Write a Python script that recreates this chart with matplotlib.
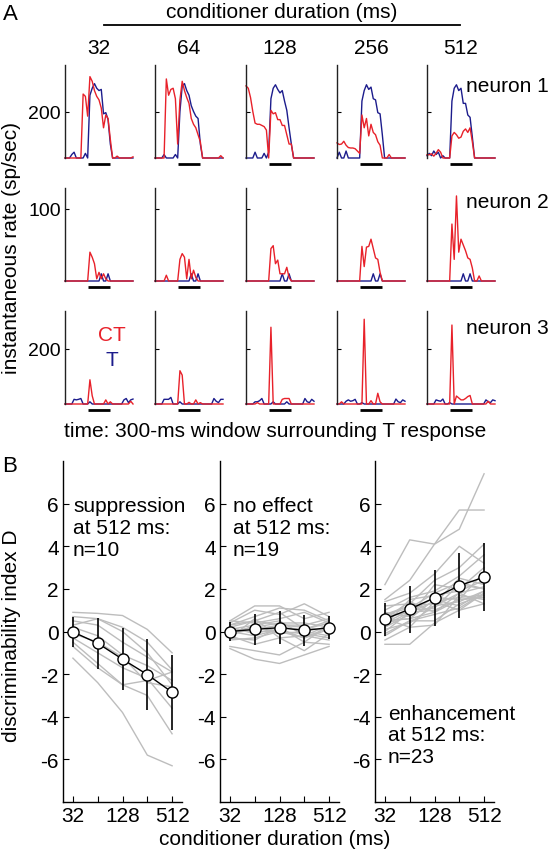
import numpy as np
import matplotlib
matplotlib.use('Agg')
import matplotlib.pyplot as plt
from matplotlib.lines import Line2D

plt.rcParams['font.family'] = ['Liberation Sans', 'DejaVu Sans']
plt.rcParams['font.size'] = 15
plt.rcParams['axes.unicode_minus'] = False

W, H = 550, 853
RED = '#e8212a'
BLUE = '#1c1c8c'
GRAY = '#bdbdbd'

# ==============================
# Panel A data: instantaneous rate, 10-ms bins over a 300-ms window
# ==============================
durations = ['32', '64', '128', '256', '512']
time_ms = np.arange(0, 301, 10)
t_window = (100, 200)

n1_ct = [
    [0, 0, 0, 0, 0, 0, 0, 0, 275, 265, 180, 350, 330, 290, 265, 250, 215, 130, 185, 170, 80, 0, 0, 8, 0, 0, 0, 0, 0, 0, 5],
    [0, 0, 0, 0, 0, 340, 270, 295, 300, 255, 60, 250, 330, 290, 260, 235, 170, 145, 130, 100, 70, 0, 0, 0, 0, 0, 0, 0, 0, 10, 0],
    [310, 300, 260, 200, 150, 145, 145, 140, 135, 120, 0, 205, 190, 195, 165, 165, 140, 140, 100, 60, 60, 0, 0, 0, 0, 0, 0, 0, 0, 0, 0],
    [65, 58, 60, 72, 55, 45, 43, 43, 40, 30, 20, 185, 130, 170, 95, 145, 110, 100, 70, 55, 0, 0, 0, 15, 0, 0, 0, 0, 0, 0, 0],
    [14, 14, 18, 8, 20, 36, 25, 0, 0, 0, 0, 95, 110, 100, 85, 90, 115, 125, 110, 130, 70, 0, 0, 0, 0, 0, 0, 0, 0, 0, 0],
]
n1_t = [
    [0, 0, 0, 15, 25, 0, 0, 0, 0, 20, 0, 270, 300, 320, 300, 290, 295, 190, 195, 165, 60, 0, 0, 0, 0, 0, 0, 0, 0, 0, 0],
    [0, 0, 0, 0, 15, 0, 0, 0, 0, 15, 0, 200, 310, 320, 290, 270, 225, 200, 180, 170, 60, 0, 0, 0, 0, 0, 0, 0, 0, 0, 0],
    [0, 0, 0, 0, 25, 0, 0, 0, 20, 0, 25, 255, 300, 315, 295, 280, 290, 245, 205, 130, 60, 0, 0, 0, 0, 0, 0, 0, 0, 0, 0],
    [0, 25, 0, 0, 30, 0, 0, 0, 0, 0, 0, 245, 290, 315, 295, 305, 255, 250, 195, 190, 100, 0, 0, 0, 0, 0, 0, 0, 0, 0, 0],
    [10, 20, 10, 30, 15, 25, 0, 10, 0, 0, 0, 245, 300, 315, 290, 300, 235, 235, 185, 175, 90, 0, 0, 0, 0, 0, 0, 0, 0, 0, 0],
]
n2_ct = [
    [0, 0, 0, 0, 0, 0, 0, 0, 0, 0, 0, 40, 33, 24, 3, 12, 3, 10, 3, 0, 0, 0, 0, 0, 0, 0, 0, 0, 0, 0, 0],
    [0, 0, 0, 0, 0, 8, 0, 0, 0, 0, 0, 30, 38, 33, 3, 30, 3, 15, 5, 0, 0, 0, 0, 0, 0, 0, 0, 0, 0, 0, 0],
    [0, 0, 0, 0, 0, 0, 0, 0, 0, 0, 0, 45, 49, 24, 29, 10, 10, 10, 19, 5, 0, 0, 0, 0, 0, 0, 0, 0, 0, 0, 0],
    [0, 0, 0, 0, 0, 0, 0, 0, 0, 0, 0, 48, 20, 47, 48, 58, 45, 32, 30, 12, 0, 0, 0, 0, 0, 0, 0, 0, 0, 0, 0],
    [0, 0, 0, 0, 0, 0, 0, 0, 0, 0, 0, 79, 30, 118, 40, 58, 50, 42, 32, 30, 18, 0, 0, 7, 0, 0, 0, 0, 0, 0, 0],
]
n2_t = [
    [0, 0, 0, 0, 0, 0, 0, 0, 0, 0, 0, 0, 0, 0, 0, 0, 10, 0, 0, 10, 0, 0, 0, 0, 0, 0, 0, 0, 0, 0, 0],
    [0, 0, 0, 0, 0, 0, 0, 0, 0, 0, 0, 0, 0, 0, 0, 0, 10, 0, 0, 10, 0, 0, 0, 0, 0, 0, 0, 0, 0, 0, 0],
    [0, 0, 0, 0, 0, 0, 0, 0, 0, 0, 0, 0, 0, 0, 0, 0, 10, 0, 0, 10, 0, 0, 0, 0, 0, 0, 0, 0, 0, 0, 0],
    [0, 0, 0, 0, 0, 0, 0, 0, 0, 0, 0, 0, 0, 0, 0, 0, 10, 0, 0, 10, 0, 0, 0, 0, 0, 0, 0, 0, 0, 0, 0],
    [0, 0, 0, 0, 0, 0, 0, 0, 0, 0, 0, 0, 0, 0, 0, 0, 10, 0, 0, 10, 0, 0, 0, 0, 0, 0, 0, 0, 0, 0, 0],
]
n3_ct = [
    [0, 0, 0, 0, 0, 0, 0, 0, 0, 0, 0, 88, 30, 0, 0, 0, 0, 0, 15, 0, 8, 0, 0, 0, 0, 0, 0, 0, 0, 10, 0],
    [0, 0, 0, 0, 0, 0, 0, 0, 0, 0, 0, 121, 105, 0, 0, 6, 0, 0, 15, 0, 5, 0, 0, 0, 0, 0, 0, 0, 0, 0, 0],
    [0, 0, 0, 0, 0, 5, 0, 0, 0, 0, 0, 279, 0, 0, 0, 0, 17, 20, 20, 20, 0, 0, 0, 0, 0, 0, 0, 0, 0, 0, 0],
    [0, 0, 8, 0, 0, 0, 0, 0, 0, 0, 0, 0, 308, 0, 0, 12, 0, 0, 39, 8, 0, 0, 0, 0, 0, 0, 0, 0, 0, 0, 0],
    [0, 0, 0, 0, 0, 0, 0, 0, 0, 0, 0, 287, 0, 29, 22, 15, 15, 20, 27, 31, 0, 0, 0, 0, 0, 0, 0, 10, 0, 0, 0],
]
n3_t = [
    [0, 0, 0, 0, 17, 15, 17, 20, 0, 0, 0, 8, 0, 0, 0, 0, 0, 0, 0, 0, 0, 0, 0, 0, 0, 0, 15, 20, 5, 15, 18],
    [0, 0, 0, 0, 17, 17, 17, 24, 0, 0, 0, 8, 0, 0, 0, 0, 0, 0, 0, 0, 0, 0, 0, 0, 0, 0, 20, 10, 5, 17, 17],
    [0, 0, 0, 0, 8, 8, 12, 20, 0, 0, 0, 0, 8, 0, 0, 0, 0, 0, 8, 0, 0, 0, 0, 0, 0, 0, 20, 8, 5, 17, 10],
    [0, 0, 0, 0, 10, 15, 10, 12, 17, 0, 0, 5, 0, 0, 0, 0, 0, 0, 0, 0, 0, 0, 0, 0, 0, 0, 18, 8, 5, 15, 10],
    [0, 0, 0, 0, 15, 12, 10, 18, 0, 0, 5, 0, 0, 0, 0, 0, 0, 0, 0, 0, 0, 0, 0, 0, 0, 0, 15, 8, 5, 15, 12],
]
neurons = [
    ('neuron 1', n1_ct, n1_t, 400, 200, 86),
    ('neuron 2', n2_ct, n2_t, 129, 100, 203),
    ('neuron 3', n3_ct, n3_t, 338, 200, 328),
]

# ==============================
# Panel B data: discriminability index D vs conditioner duration
# ==============================
cond_ms = [32, 64, 128, 256, 512]
cond_ticklabels = ['32', '', '128', '', '512']

supp_lines = [
    [0.9, 0.85, 0.75, 0.1, -1.0],
    [0.7, 0.6, 0.2, -0.5, -1.8],
    [0.5, 0.3, -0.5, -1.2, -1.9],
    [0.3, 0.6, 0.0, -1.0, -2.5],
    [0.2, -0.2, -1.1, -1.6, -2.3],
    [-0.1, -0.5, -1.2, -2.4, -2.6],
    [-0.3, -1.0, -1.7, -2.2, -3.6],
    [-0.5, -1.5, -2.5, -2.3, -1.9],
    [-0.7, -1.7, -2.5, -3.0, -4.8],
    [-1.25, -2.4, -3.8, -5.8, -6.3],
]
supp_mean = [-0.02, -0.55, -1.3, -2.02, -2.85]
supp_err = [0.72, 1.2, 1.45, 1.68, 1.75]

none_lines = [
    [0.5, 1.2, 1.2, 0.6, 0.9],
    [0.4, 1.0, 0.8, 1.3, 0.7],
    [0.3, 0.7, 1.1, 1.0, 0.5],
    [0.5, 0.4, 0.6, 0.9, 0.4],
    [0.2, 0.5, 0.3, 0.3, 0.6],
    [0.1, 0.3, 0.5, -0.2, 0.3],
    [0.0, 0.2, 0.4, 0.4, 0.2],
    [0.2, -0.1, 0.2, 0.1, 0.5],
    [-0.1, 0.1, 0.3, 0.2, 0.0],
    [0.0, -0.2, 0.1, -0.3, 0.1],
    [-0.2, 0.3, -0.1, 0.0, -0.2],
    [-0.3, -0.4, 0.2, -0.5, 0.3],
    [0.1, 0.0, 0.0, -0.1, -0.3],
    [-0.4, -0.3, 0.0, -0.3, 0.2],
    [-0.2, -0.6, -0.3, -0.2, -0.4],
    [-0.3, 0.6, -0.3, -0.9, -0.1],
    [-0.7, -0.9, -1.1, -0.5, -0.6],
    [-0.8, -1.3, -1.5, -1.1, -0.7],
    [0.3, 0.5, 0.9, 0.1, 0.4],
]
none_mean = [0.0, 0.1, 0.18, 0.05, 0.18]
none_err = [0.45, 0.72, 0.77, 0.74, 0.53]

enh_lines = [
    [2.2, 4.3, 4.1, 4.8, 7.4],
    [1.5, 2.4, 4.1, 5.7, 5.7],
    [1.4, 1.8, 2.7, 4.0, 3.2],
    [1.2, 1.3, 2.4, 3.0, 4.1],
    [1.0, 1.6, 1.9, 2.6, 3.6],
    [0.9, 0.7, 2.2, 2.0, 3.0],
    [0.8, 1.2, 1.3, 2.5, 2.2],
    [0.7, 0.9, 1.6, 1.5, 2.8],
    [0.6, 1.4, 0.9, 1.8, 2.1],
    [0.5, 0.6, 1.5, 1.2, 1.9],
    [0.4, 1.0, 1.1, 2.2, 2.0],
    [0.3, 0.9, 1.4, 1.6, 1.7],
    [0.2, 0.8, 1.2, 1.8, 1.3],
    [0.1, 0.4, 1.2, 1.4, 1.9],
    [0.0, 0.9, 1.0, 1.5, 1.6],
    [-0.1, 0.5, 0.8, 1.1, 1.8],
    [-0.2, 0.5, 0.5, 1.3, 1.7],
    [-0.4, 0.2, 0.3, 1.7, 1.5],
    [-0.6, -0.6, 0.4, 1.0, 1.3],
    [0.8, 1.1, 1.8, 2.3, 2.0],
    [0.6, 0.2, 1.4, 1.0, 1.8],
    [0.3, 1.5, 1.7, 1.9, 2.4],
    [0.5, 0.6, 0.9, 1.5, 1.6],
]
enh_mean = [0.58, 1.05, 1.58, 2.15, 2.55]
enh_err = [0.78, 1.1, 1.3, 1.52, 1.6]

groups = [
    (supp_lines, supp_mean, supp_err, ['suppression', 'at 512 ms:', 'n=10'], (73, 507)),
    (none_lines, none_mean, none_err, ['no effect', 'at 512 ms:', 'n=19'], (233, 507)),
    (enh_lines, enh_mean, enh_err, ['enhancement', 'at 512 ms:', 'n=23'], (388, 714)),
]


def px_rect(left, top, width, height):
    return [left / W, 1 - (top + height) / H, width / W, height / H]


def fig_text(fig, x, y, s, **kw):
    fig.text(x / W, 1 - y / H, s, **kw)


fig = plt.figure(figsize=(W / 100, H / 100), dpi=100)

# ------------------------------
# Panel A
# ------------------------------
col_left = [65, 155, 246, 337, 427]
row_top = [66, 189, 312]
ax_w, ax_h = 68, 93

for r, (name, ct, tt, ymax, ytick, name_y) in enumerate(neurons):
    for c in range(5):
        ax = fig.add_axes(px_rect(col_left[c], row_top[r], ax_w, ax_h))
        ax.plot(time_ms, tt[c], color=BLUE, lw=1.0, clip_on=False)
        ax.plot(time_ms, ct[c], color=RED, lw=1.0, clip_on=False)
        # T response window bar under the axis
        ax.plot(t_window, [-0.06, -0.06], color='k', lw=2.0, solid_capstyle='butt',
                transform=ax.get_xaxis_transform(), clip_on=False)
        ax.set_xlim(0, 300)
        ax.set_ylim(0, ymax)
        ax.set_xticks([])
        ax.set_yticks([ytick])
        ax.tick_params(axis='y', direction='in', length=3, width=0.8, labelsize=14, pad=3)
        if c > 0:
            ax.set_yticklabels([])
        for side in ['top', 'right', 'bottom']:
            ax.spines[side].set_visible(False)
        ax.spines['left'].set_linewidth(1.0)
        ax.spines['left'].set_color('#222222')
    fig_text(fig, 466, name_y, name, ha='left', va='center')

for c, d in enumerate(durations):
    fig_text(fig, col_left[c] + ax_w / 2, 49, d, ha='center', va='center')

fig_text(fig, 282, 13, 'conditioner duration (ms)', ha='center', va='center')
fig.add_artist(Line2D([104 / W, 460 / W], [1 - 26 / H, 1 - 26 / H], color='k', lw=1.3))
fig_text(fig, 112, 336, 'CT', color=RED, ha='center', va='center')
fig_text(fig, 112, 360, 'T', color=BLUE, ha='center', va='center')
fig_text(fig, 275, 432, 'time: 300-ms window surrounding T response', ha='center', va='center')
fig_text(fig, 12, 248, 'instantaneous rate (sp/sec)', rotation=90, ha='center', va='center')
fig_text(fig, 10, 14, 'A', ha='center', va='center', fontsize=16)

# ------------------------------
# Panel B
# ------------------------------
xpos = np.log2(cond_ms)
b_left = [63, 220, 375]
for g, (lines, mean, err, label, (tx, ty)) in enumerate(groups):
    ax = fig.add_axes(px_rect(b_left[g], 462, 119, 341))
    for vals in lines:
        ax.plot(xpos, vals, color=GRAY, lw=1.0, zorder=1)
    ax.errorbar(xpos, mean, yerr=err, fmt='-o', color='k', lw=1.0, elinewidth=1.2,
                capsize=0, ms=8, mfc='white', mec='k', mew=1.0, zorder=3)
    ax.set_xlim(4.6, 9.4)
    ax.set_ylim(-8, 8)
    ax.set_xticks(xpos)
    ax.set_xticklabels(cond_ticklabels)
    ax.set_yticks([-6, -4, -2, 0, 2, 4, 6])
    ax.tick_params(direction='in', length=4, width=0.8, labelsize=15, pad=3)
    for side in ['top', 'right']:
        ax.spines[side].set_visible(False)
    for side in ['left', 'bottom']:
        ax.spines[side].set_linewidth(1.0)
    for i, s in enumerate(label):
        fig_text(fig, tx, ty + 22 * i, s, ha='left', va='center')

fig_text(fig, 275, 840, 'conditioner duration (ms)', ha='center', va='center')
fig_text(fig, 12, 636, 'discriminability index D', rotation=90, ha='center', va='center')
fig_text(fig, 10, 467, 'B', ha='center', va='center', fontsize=16)

fig.savefig('out.png', dpi=100)
